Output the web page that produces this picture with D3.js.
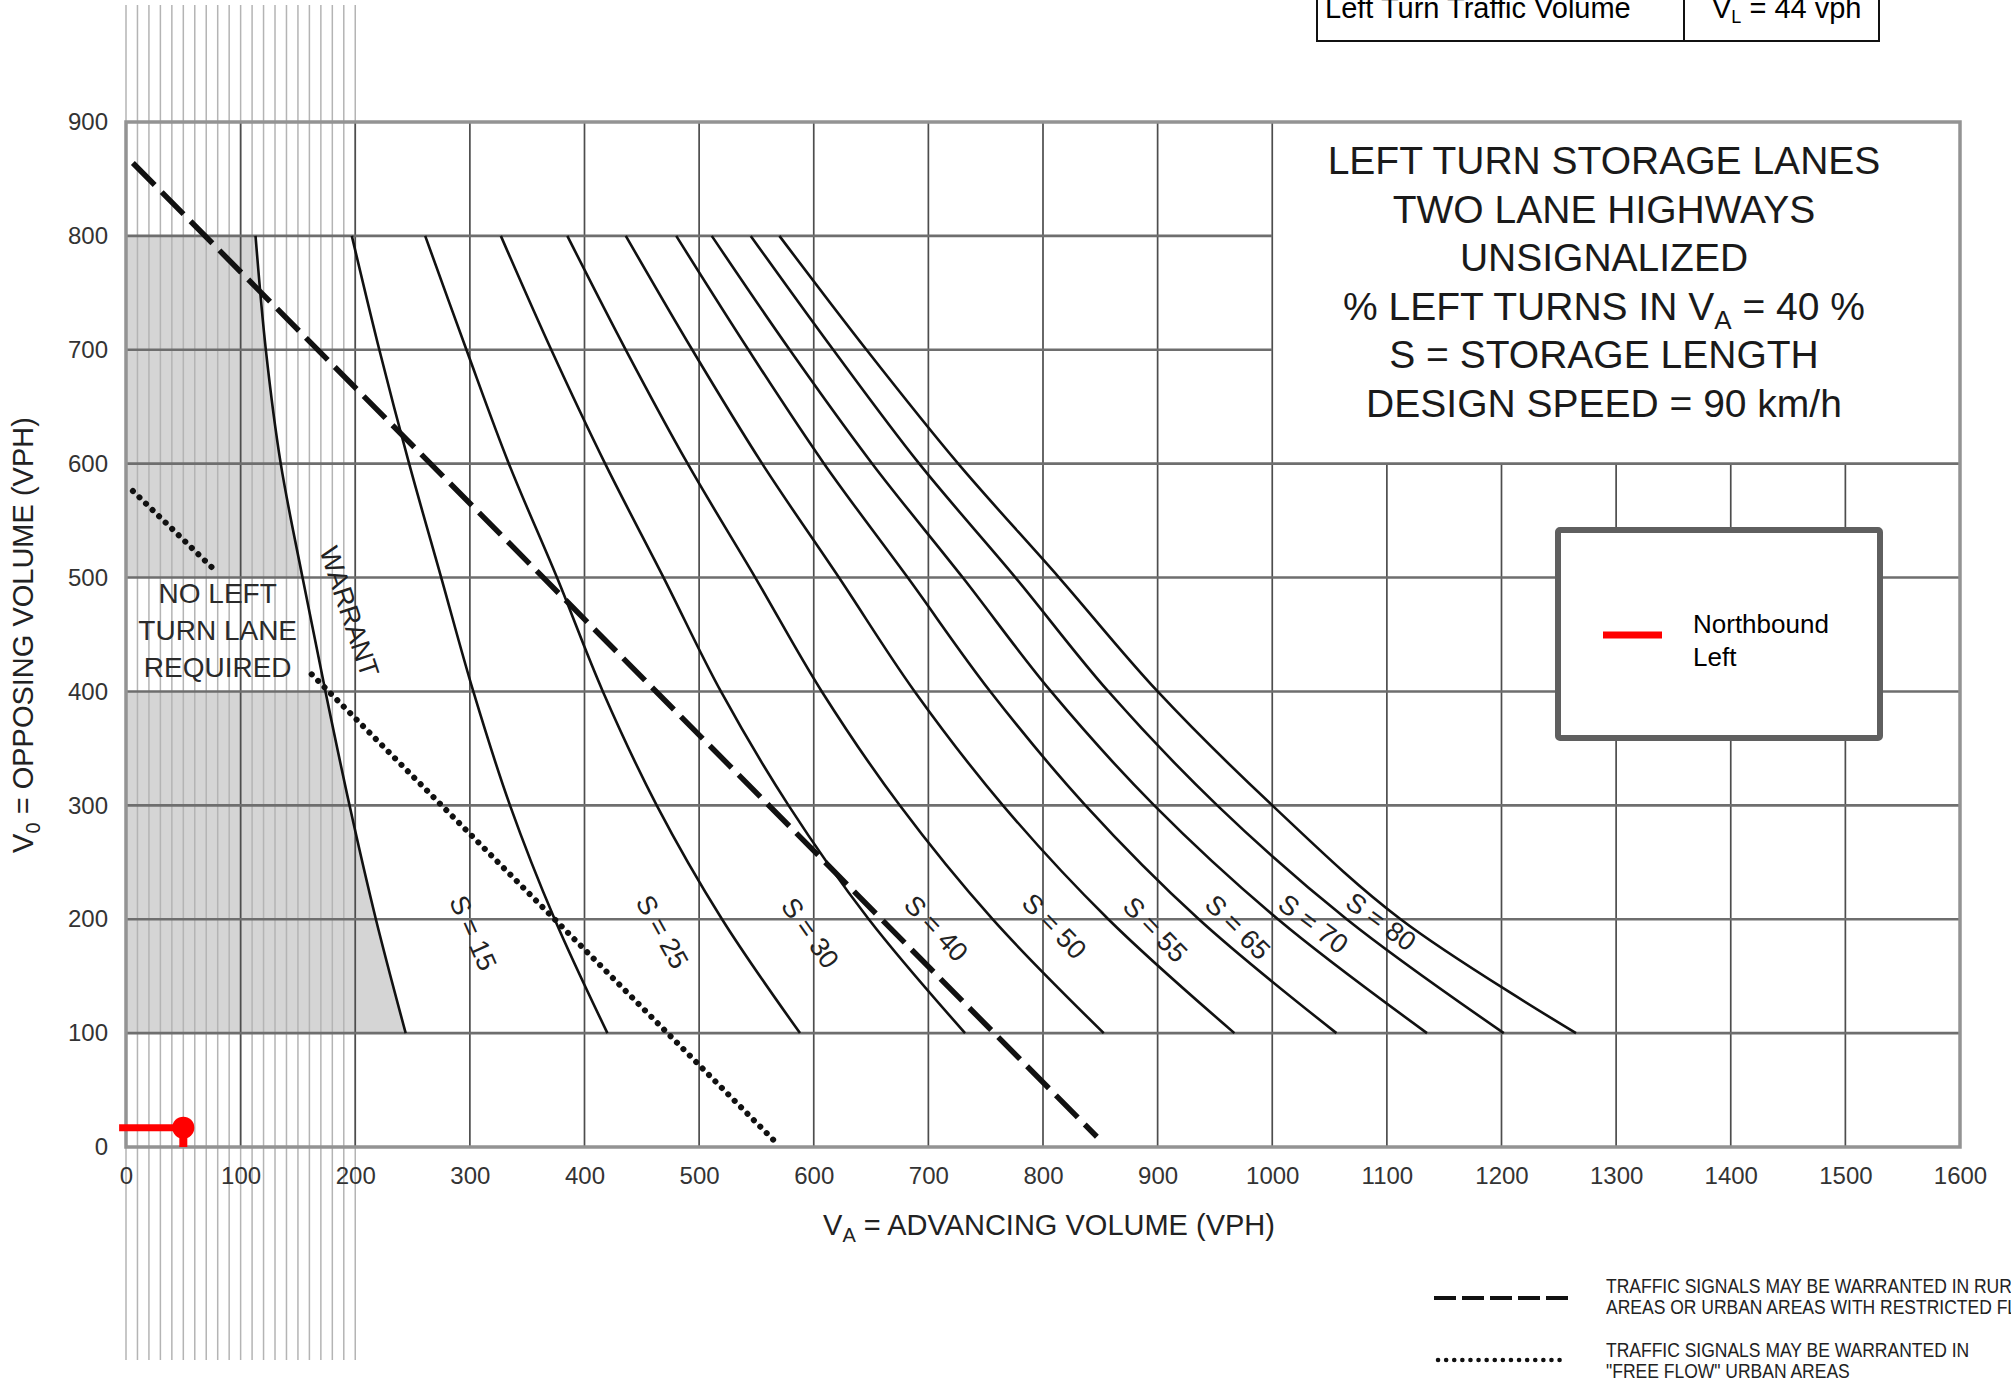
<!DOCTYPE html>
<html>
<head>
<meta charset="utf-8">
<script src="https://cdn.jsdelivr.net/npm/d3@7/dist/d3.min.js"></script>
<style>
  body { margin: 0; background: #fff; }
  svg text { font-family: "Liberation Sans", Arial, Helvetica, sans-serif; }
</style>
</head>
<body>
<div id="chart"></div>
<script>
// data
var xTicks = [0, 100, 200, 300, 400, 500, 600, 700, 800, 900, 1000, 1100, 1200, 1300, 1400, 1500, 1600]
var yTicks = [0, 100, 200, 300, 400, 500, 600, 700, 800, 900]

// opposing volume levels where the curves were read
var opposing = [800, 700, 600, 500, 400, 300, 200, 100]

// advancing volume of the warrant line at each opposing level
var warrant = [113, 122, 135, 154, 174, 195, 218, 244]

// storage length curves, advancing volume at each opposing level
var storageNames = ['S = 15', 'S = 25', 'S = 30', 'S = 40', 'S = 50', 'S = 55', 'S = 65', 'S = 70', 'S = 80']
var s15 = [197, 221, 247, 275, 303, 335, 374, 420]
var s25 = [261, 297, 334, 376, 416, 463, 520, 588]
var s30 = [327, 371, 418, 469, 519, 578, 648, 732]
var s40 = [385, 436, 490, 549, 607, 675, 756, 853]
var s50 = [436, 494, 555, 622, 688, 765, 857, 967]
var s55 = [480, 543, 609, 682, 754, 837, 936, 1056]
var s65 = [511, 579, 651, 730, 807, 897, 1005, 1135]
var s70 = [545, 617, 692, 776, 857, 952, 1065, 1202]
var s80 = [570, 646, 726, 814, 900, 1000, 1112, 1265]

// signal warrant lines [advancing, opposing]
var signalRural = [[6, 864], [847, 9]]
var signalUrban = [[[6, 576], [79, 505]], [[162, 415], [566, 5]]]

// the plotted approach
var nbAdvancing = 50
var nbOpposing = 17
var nbStart = -6

var titleLines = ['LEFT TURN STORAGE LANES', 'TWO LANE HIGHWAYS', 'UNSIGNALIZED', '% LEFT TURNS IN V', 'S = STORAGE LENGTH', 'DESIGN SPEED = 90 km/h']

// svg
var w = 2011,
    h = 1381

var svg = d3.select('#chart')
    .append('svg')
    .attr('width', w)
    .attr('height', h)

svg.append('rect')
    .attr('width', w)
    .attr('height', h)
    .attr('fill', '#fff')

// scales
var x = d3.scaleLinear()
    .domain([0, 1600])
    .range([126, 1960])

var y = d3.scaleLinear()
    .domain([0, 900])
    .range([1147, 122])

var warrantPts = opposing.map((v, i) => [warrant[i], v])
var storage = [s15, s25, s30, s40, s50, s55, s65, s70, s80]
    .map(s => opposing.map((v, i) => [s[i], v]))

// shaded area left of the warrant line
var shade = d3.area()
    .curve(d3.curveCatmullRom.alpha(0.5))
    .y(d => y(d[1]))
    .x0(x(0))
    .x1(d => x(d[0]))

svg.append('path')
    .attr('d', shade(warrantPts.filter(d => d[1] >= 500)))
    .attr('fill', '#d5d5d5')

svg.append('path')
    .attr('d', shade(warrantPts.filter(d => d[1] <= 400)))
    .attr('fill', '#d5d5d5')

// fine vertical lines of the overlay
svg.append('g')
    .selectAll('line')
    .data(d3.range(0, 201, 10))
    .enter()
    .append('line')
    .attr('x1', d => x(d))
    .attr('x2', d => x(d))
    .attr('y1', 5)
    .attr('y2', 1360)
    .attr('stroke', '#b4b4b4')
    .attr('stroke-width', 1.5)

// grid, the title box keeps the top right corner clear
svg.append('g')
    .selectAll('line')
    .data(xTicks.slice(1, -1))
    .enter()
    .append('line')
    .attr('x1', d => x(d))
    .attr('x2', d => x(d))
    .attr('y1', y(0))
    .attr('y2', d => d > 1000 ? y(600) : y(900))
    .attr('stroke', '#4d4d4d')
    .attr('stroke-width', 1.7)

svg.append('g')
    .selectAll('line')
    .data(yTicks.slice(1, -1))
    .enter()
    .append('line')
    .attr('y1', d => y(d))
    .attr('y2', d => y(d))
    .attr('x1', x(0))
    .attr('x2', d => d >= 700 ? x(1000) : x(1600))
    .attr('stroke', '#6e6e6e')
    .attr('stroke-width', 2.6)

svg.append('rect')
    .attr('x', x(0))
    .attr('y', y(900))
    .attr('width', x(1600) - x(0))
    .attr('height', y(0) - y(900))
    .attr('fill', 'none')
    .attr('stroke', '#939393')
    .attr('stroke-width', 3.5)

// axes
var xaxis = d3.axisBottom(x)
    .tickValues(xTicks)
    .tickFormat(d3.format('d'))
    .tickSize(0)
    .tickPadding(20)

var yaxis = d3.axisLeft(y)
    .tickValues(yTicks)
    .tickFormat(d3.format('d'))
    .tickSize(0)
    .tickPadding(18)

svg.append('g')
    .attr('transform', `translate(0,${y(0)})`)
    .call(xaxis)
    .call(g => g.select('.domain').remove())
    .selectAll('text')
    .attr('font-size', 24)
    .attr('fill', '#333')
    .style('font-family', '"Liberation Sans", Arial, sans-serif')

svg.append('g')
    .attr('transform', `translate(${x(0)},0)`)
    .call(yaxis)
    .call(g => g.select('.domain').remove())
    .selectAll('text')
    .attr('font-size', 24)
    .attr('fill', '#333')
    .style('font-family', '"Liberation Sans", Arial, sans-serif')

var xtitle = svg.append('text')
    .attr('x', 1049)
    .attr('y', 1235)
    .attr('text-anchor', 'middle')
    .attr('font-size', 29)
    .attr('fill', '#222')
xtitle.append('tspan').text('V')
xtitle.append('tspan').text('A').attr('font-size', 20).attr('dy', 7)
xtitle.append('tspan').text(' = ADVANCING VOLUME (VPH)').attr('dy', -7)

var ytitle = svg.append('text')
    .attr('transform', 'translate(33,635) rotate(-90)')
    .attr('text-anchor', 'middle')
    .attr('font-size', 29)
    .attr('fill', '#222')
ytitle.append('tspan').text('V')
ytitle.append('tspan').text('0').attr('font-size', 20).attr('dy', 7)
ytitle.append('tspan').text(' = OPPOSING VOLUME (VPH)').attr('dy', -7)

// curves
var line = d3.line()
    .curve(d3.curveCatmullRom.alpha(0.5))
    .x(d => x(d[0]))
    .y(d => y(d[1]))

svg.append('path')
    .attr('d', line(warrantPts))
    .attr('fill', 'none')
    .attr('stroke', '#111')
    .attr('stroke-width', 2.6)

svg.append('g')
    .selectAll('path')
    .data(storage)
    .enter()
    .append('path')
    .attr('d', line)
    .attr('fill', 'none')
    .attr('stroke', '#111')
    .attr('stroke-width', 2.6)

svg.append('path')
    .attr('d', line(signalRural))
    .attr('fill', 'none')
    .attr('stroke', '#111')
    .attr('stroke-width', 5.5)
    .attr('stroke-dasharray', '31 10')

svg.append('g')
    .selectAll('path')
    .data(signalUrban)
    .enter()
    .append('path')
    .attr('d', line)
    .attr('fill', 'none')
    .attr('stroke', '#111')
    .attr('stroke-width', 6)
    .attr('stroke-linecap', 'round')
    .attr('stroke-dasharray', '0.1 9')

// curve labels, placed in data units
var labelAt = [[303, 188, 66], [468, 189, 61], [597, 188, 55], [707, 192, 47], [810, 194, 46],
    [898, 191, 46], [970, 193, 45], [1036, 196, 37], [1095, 198, 36]]

svg.append('g')
    .selectAll('text')
    .data(storageNames)
    .enter()
    .append('text')
    .text(d => d)
    .attr('transform', (d, i) => `translate(${x(labelAt[i][0])},${y(labelAt[i][1])}) rotate(${labelAt[i][2]})`)
    .attr('text-anchor', 'middle')
    .attr('dy', '0.35em')
    .attr('font-size', 27)
    .attr('fill', '#222')

svg.append('text')
    .text('WARRANT')
    .attr('transform', `translate(${x(195)},${y(470)}) rotate(71.7)`)
    .attr('text-anchor', 'middle')
    .attr('dy', '0.35em')
    .attr('font-size', 27)
    .attr('fill', '#222')

svg.append('g')
    .selectAll('text')
    .data(['NO LEFT', 'TURN LANE', 'REQUIRED'])
    .enter()
    .append('text')
    .text(d => d)
    .attr('x', x(80))
    .attr('y', (d, i) => y(478) + i * 37)
    .attr('text-anchor', 'middle')
    .attr('font-size', 28)
    .attr('fill', '#2a2a2a')

// title box text
var title = svg.append('g')
    .attr('text-anchor', 'middle')
    .attr('font-size', 39)
    .attr('fill', '#1a1a1a')

titleLines.forEach((t, i) => {
    var tx = title.append('text')
        .attr('x', 1604)
        .attr('y', 174 + i * 48.6)
    tx.append('tspan').text(t)
    if (i == 3) {
        tx.append('tspan').text('A').attr('font-size', 26).attr('dy', 9)
        tx.append('tspan').text(' = 40 %').attr('dy', -9)
    }
})

// legend box
svg.append('rect')
    .attr('x', 1558)
    .attr('y', 530)
    .attr('width', 322)
    .attr('height', 208)
    .attr('rx', 2)
    .attr('fill', '#fff')
    .attr('stroke', '#5f5f5f')
    .attr('stroke-width', 6)

svg.append('line')
    .attr('x1', 1603)
    .attr('x2', 1662)
    .attr('y1', 635)
    .attr('y2', 635)
    .attr('stroke', 'red')
    .attr('stroke-width', 7)

svg.append('g')
    .selectAll('text')
    .data(['Northbound', 'Left'])
    .enter()
    .append('text')
    .text(d => d)
    .attr('x', 1693)
    .attr('y', (d, i) => 633 + i * 33)
    .attr('font-size', 26)
    .attr('fill', '#000')

// northbound point
svg.append('line')
    .attr('x1', x(nbStart))
    .attr('x2', x(nbAdvancing))
    .attr('y1', y(nbOpposing))
    .attr('y2', y(nbOpposing))
    .attr('stroke', 'red')
    .attr('stroke-width', 7)

svg.append('line')
    .attr('x1', x(nbAdvancing))
    .attr('x2', x(nbAdvancing))
    .attr('y1', y(nbOpposing))
    .attr('y2', y(0))
    .attr('stroke', 'red')
    .attr('stroke-width', 8)

svg.append('circle')
    .attr('cx', x(nbAdvancing))
    .attr('cy', y(nbOpposing))
    .attr('r', 11)
    .attr('fill', 'red')

// table at the top
var table = svg.append('g')
    .attr('stroke', '#111')
    .attr('stroke-width', 2)

;[1317, 1684, 1879].forEach(d => {
    table.append('line').attr('x1', d).attr('x2', d).attr('y1', 0).attr('y2', 41)
})
table.append('line').attr('x1', 1316).attr('x2', 1880).attr('y1', 41).attr('y2', 41)

svg.append('text')
    .text('Left Turn Traffic Volume')
    .attr('x', 1325)
    .attr('y', 18)
    .attr('font-size', 29)
    .attr('fill', '#000')

var vl = svg.append('text')
    .attr('x', 1712)
    .attr('y', 18)
    .attr('font-size', 29)
    .attr('fill', '#000')
vl.append('tspan').text('V')
vl.append('tspan').text('L').attr('font-size', 18).attr('dy', 5)
vl.append('tspan').text(' = 44 vph').attr('dy', -5)

// line style legend
svg.append('line')
    .attr('x1', 1434)
    .attr('x2', 1568)
    .attr('y1', 1298)
    .attr('y2', 1298)
    .attr('stroke', '#111')
    .attr('stroke-width', 4)
    .attr('stroke-dasharray', '22 6')

svg.append('line')
    .attr('x1', 1438)
    .attr('x2', 1564)
    .attr('y1', 1360)
    .attr('y2', 1360)
    .attr('stroke', '#111')
    .attr('stroke-width', 4.5)
    .attr('stroke-linecap', 'round')
    .attr('stroke-dasharray', '0.1 8')

var notes = [
    ['TRAFFIC SIGNALS MAY BE WARRANTED IN RURAL', 1293],
    ['AREAS OR URBAN AREAS WITH RESTRICTED FLOW', 1314],
    ['TRAFFIC SIGNALS MAY BE WARRANTED IN', 1357],
    ['"FREE FLOW" URBAN AREAS', 1378]
]

svg.append('g')
    .attr('transform', 'translate(1606,0) scale(0.875,1)')
    .selectAll('text')
    .data(notes)
    .enter()
    .append('text')
    .text(d => d[0])
    .attr('x', 0)
    .attr('y', d => d[1])
    .attr('font-size', 20)
    .attr('fill', '#222')
</script>
</body>
</html>
